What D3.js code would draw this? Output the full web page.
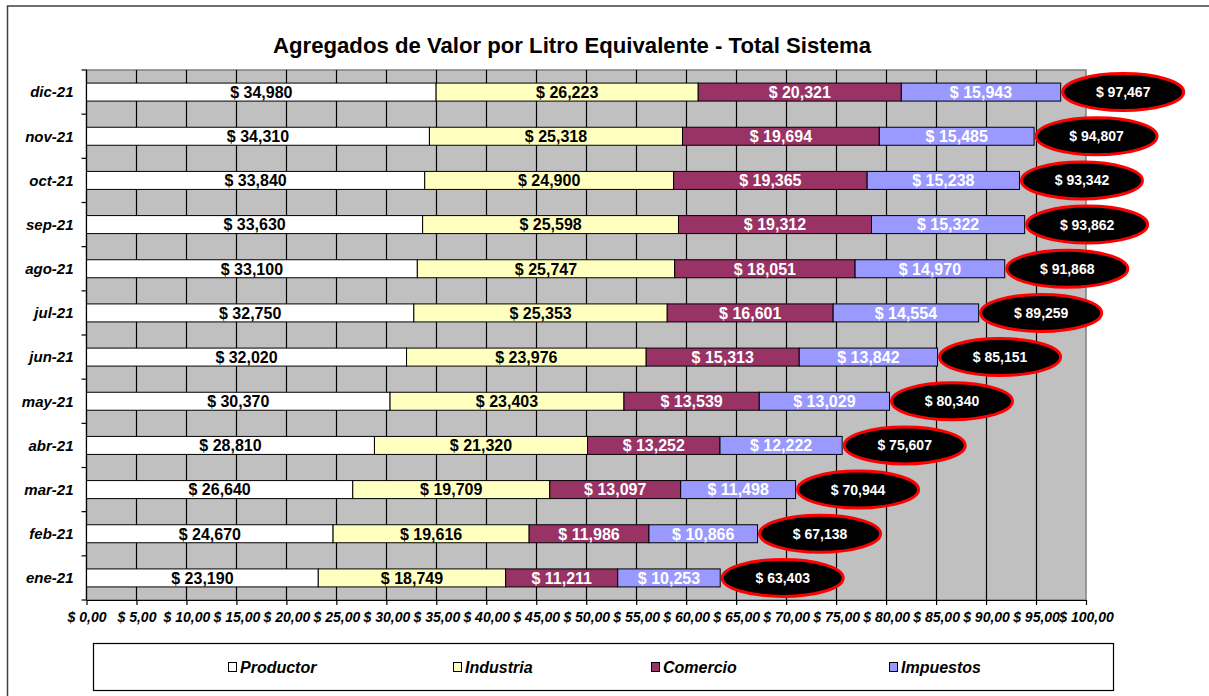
<!DOCTYPE html>
<html>
<head>
<meta charset="utf-8">
<script src="https://cdn.jsdelivr.net/npm/d3@7"></script>
<style>
  body { margin: 0; background: #fff; }
  svg text { font-family: Arial, "Liberation Sans", sans-serif; }
</style>
</head>
<body>
<svg id="chart"></svg>
<script>
// chart data (values in $ per litre x1000, top row first)
const months = ["dic-21", "nov-21", "oct-21", "sep-21", "ago-21", "jul-21",
  "jun-21", "may-21", "abr-21", "mar-21", "feb-21", "ene-21"];
const productor = [34980, 34310, 33840, 33630, 33100, 32750, 32020, 30370, 28810, 26640, 24670, 23190];
const industria = [26223, 25318, 24900, 25598, 25747, 25353, 23976, 23403, 21320, 19709, 19616, 18749];
const comercio = [20321, 19694, 19365, 19312, 18051, 16601, 15313, 13539, 13252, 13097, 11986, 11211];
const impuestos = [15943, 15485, 15238, 15322, 14970, 14554, 13842, 13029, 12222, 11498, 10866, 10253];
const totals = [97467, 94807, 93342, 93862, 91868, 89259, 85151, 80340, 75607, 70944, 67138, 63403];
const seriesNames = ["Productor", "Industria", "Comercio", "Impuestos"];
const xTicks = [0, 5, 10, 15, 20, 25, 30, 35, 40, 45, 50, 55, 60, 65, 70, 75, 80, 85, 90, 95, 100];
const xTickLabels = ["$ 0,00", "$ 5,00", "$ 10,00", "$ 15,00", "$ 20,00", "$ 25,00", "$ 30,00",
  "$ 35,00", "$ 40,00", "$ 45,00", "$ 50,00", "$ 55,00", "$ 60,00", "$ 65,00", "$ 70,00",
  "$ 75,00", "$ 80,00", "$ 85,00", "$ 90,00", "$ 95,00", "$ 100,00"];

const colors = ["#FFFFFF", "#FFFFC0", "#993366", "#9999FF"];
const labelColors = ["#000", "#000", "#fff", "#fff"];

const width = 1209;
const height = 696;
const plot = { left: 86.5, right: 1086, top: 70, bottom: 600 };

const svg = d3.select("#chart")
  .attr("width", width)
  .attr("height", height);

// outer frame
svg.append("rect")
  .attr("x", 7.5).attr("y", 6)
  .attr("width", 1400).attr("height", 900)
  .attr("fill", "none")
  .attr("stroke", "#404040")
  .attr("stroke-width", 1.5);

// title
svg.append("text")
  .attr("x", 572)
  .attr("y", 53)
  .attr("text-anchor", "middle")
  .attr("font-size", "22px")
  .attr("font-weight", "bold")
  .attr("textLength", 598)
  .attr("lengthAdjust", "spacingAndGlyphs")
  .text("Agregados de Valor por Litro Equivalente - Total Sistema");

// scales
const x = d3.scaleLinear()
  .domain([0, 100])
  .range([plot.left, plot.right]);

const y = d3.scaleBand()
  .domain(months)
  .range([plot.top, plot.bottom])
  .padding(0);

const barH = 18;

// plot background
svg.append("rect")
  .attr("x", plot.left).attr("y", plot.top)
  .attr("width", plot.right - plot.left)
  .attr("height", plot.bottom - plot.top)
  .attr("fill", "#C0C0C0")
  .attr("stroke", "#808080")
  .attr("stroke-width", 1.5);

// vertical gridlines
svg.append("g")
  .selectAll("line")
  .data(xTicks.filter(t => t > 0 && t < 100))
  .join("line")
  .attr("x1", d => Math.round(x(d)) + 0.5)
  .attr("x2", d => Math.round(x(d)) + 0.5)
  .attr("y1", plot.top)
  .attr("y2", plot.bottom)
  .attr("stroke", "#000")
  .attr("stroke-width", 1.2);

// stacked rows
const rows = months.map((m, i) => {
  const vals = [productor[i], industria[i], comercio[i], impuestos[i]];
  let acc = 0;
  const segs = vals.map((v, k) => {
    const s = { month: m, key: k, value: v, x0: acc, x1: acc + v };
    acc += v;
    return s;
  });
  return { month: m, segs: segs, total: totals[i] };
});

const rowG = svg.append("g")
  .selectAll("g")
  .data(rows)
  .join("g")
  .attr("transform", d => `translate(0,${y(d.month) + y.bandwidth() / 2})`);

rowG.selectAll("rect")
  .data(d => d.segs)
  .join("rect")
  .attr("x", d => x(d.x0 / 1000))
  .attr("y", -barH / 2)
  .attr("width", d => x(d.x1 / 1000) - x(d.x0 / 1000))
  .attr("height", barH)
  .attr("fill", d => colors[d.key])
  .attr("stroke", "#000")
  .attr("stroke-width", 1);

rowG.selectAll("text.seg")
  .data(d => d.segs)
  .join("text")
  .attr("class", "seg")
  .attr("x", d => (x(d.x0 / 1000) + x(d.x1 / 1000)) / 2)
  .attr("y", 0)
  .attr("dy", "0.36em")
  .attr("text-anchor", "middle")
  .attr("font-size", "16px")
  .attr("font-weight", "bold")
  .attr("fill", d => labelColors[d.key])
  .text(d => "$ " + d3.format(",")(d.value));

// total ellipses
rowG.append("ellipse")
  .attr("cx", d => x(d.total / 1000) + 62.5)
  .attr("cy", 0)
  .attr("rx", 60.5)
  .attr("ry", 18.5)
  .attr("fill", "#000")
  .attr("stroke", "#FF0000")
  .attr("stroke-width", 3);

rowG.append("text")
  .attr("x", d => x(d.total / 1000) + 62.5)
  .attr("y", 0)
  .attr("dy", "0.36em")
  .attr("text-anchor", "middle")
  .attr("font-size", "14px")
  .attr("font-weight", "bold")
  .attr("fill", "#fff")
  .text(d => "$ " + d3.format(",")(d.total));

// y axis
const yAxis = svg.append("g")
  .attr("transform", `translate(${plot.left},0)`);
yAxis.append("line")
  .attr("y1", plot.top).attr("y2", plot.bottom)
  .attr("stroke", "#000").attr("stroke-width", 1.2);
yAxis.selectAll("line.tick")
  .data(months.concat(["end"]))
  .join("line")
  .attr("class", "tick")
  .attr("x1", -5).attr("x2", 0)
  .attr("y1", (d, i) => plot.top + i * y.step())
  .attr("y2", (d, i) => plot.top + i * y.step())
  .attr("stroke", "#000").attr("stroke-width", 1.2);
yAxis.selectAll("text")
  .data(months)
  .join("text")
  .attr("x", -13)
  .attr("y", d => y(d) + y.bandwidth() / 2)
  .attr("dy", "0.36em")
  .attr("text-anchor", "end")
  .attr("font-size", "15px")
  .attr("font-weight", "bold")
  .attr("font-style", "italic")
  .text(d => d);

// x axis
const xAxis = svg.append("g")
  .attr("transform", `translate(0,${plot.bottom})`)
  .call(d3.axisBottom(x)
    .tickValues(xTicks)
    .tickFormat((d, i) => xTickLabels[i])
    .tickSizeInner(5)
    .tickSizeOuter(0)
    .tickPadding(7));
xAxis.select(".domain").attr("stroke", "#000").attr("stroke-width", 1.2);
xAxis.selectAll(".tick line").attr("stroke", "#000").attr("stroke-width", 1.2);
xAxis.selectAll(".tick text")
  .attr("font-family", "Arial, 'Liberation Sans', sans-serif")
  .attr("font-size", "14px")
  .attr("font-weight", "bold")
  .attr("font-style", "italic")
  .attr("fill", "#000");

// legend
const legendX = [228, 453, 651, 889];
svg.append("rect")
  .attr("x", 93.5).attr("y", 643.5)
  .attr("width", 1020).attr("height", 47)
  .attr("fill", "#fff")
  .attr("stroke", "#000")
  .attr("stroke-width", 1.2);

const legend = svg.append("g")
  .selectAll("g")
  .data(seriesNames)
  .join("g")
  .attr("transform", (d, i) => `translate(${legendX[i]},667)`);

legend.append("rect")
  .attr("x", 0.5).attr("y", -4.5)
  .attr("width", 8).attr("height", 9)
  .attr("fill", (d, i) => colors[i])
  .attr("stroke", "#000")
  .attr("stroke-width", 1);

legend.append("text")
  .attr("x", 12)
  .attr("y", 0)
  .attr("dy", "0.36em")
  .attr("font-size", "16px")
  .attr("font-weight", "bold")
  .attr("font-style", "italic")
  .text(d => d);
</script>
</body>
</html>
